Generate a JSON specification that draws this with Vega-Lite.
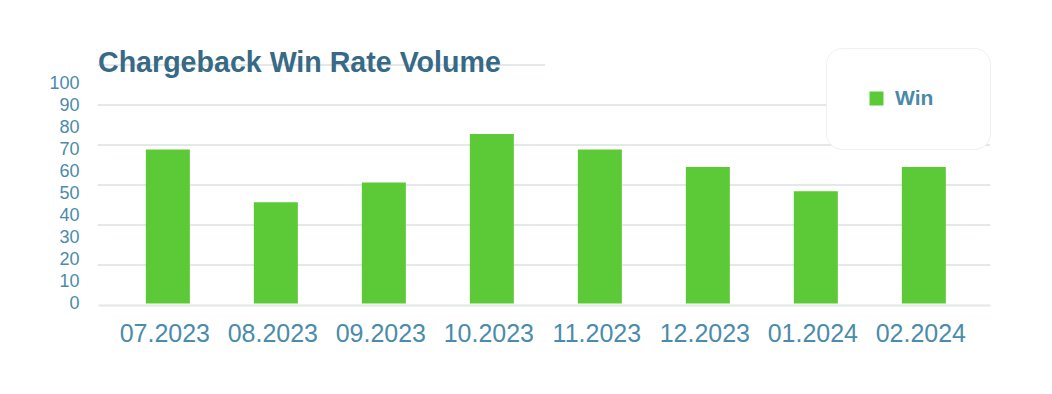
{
  "$schema": "https://vega.github.io/schema/vega-lite/v6.json",
  "width": 892,
  "height": 240,
  "autosize": {"type": "none"},
  "padding": {"left": 98, "top": 65, "right": 62, "bottom": 89},
  "background": "white",
  "config": {"view": {"stroke": null}, "font": "Liberation Sans"},
  "title": {
    "text": "Chargeback Win Rate Volume",
    "anchor": "start",
    "frame": "group",
    "fontSize": 28.6,
    "font": "Liberation Sans",
    "fontWeight": "bold",
    "color": "#366a86",
    "baseline": "alphabetic",
    "offset": -53
  },
  "layer": [
    {
      "data": {"values": [{"g": 1}, {"g": 2}, {"g": 3}, {"g": 4}, {"g": 5}]},
      "mark": {"type": "rule", "color": "#e4e8e8", "strokeWidth": 2},
      "encoding": {
        "y": {"field": "g", "type": "quantitative", "scale": {"domain": [0, 6]}, "axis": null}
      }
    },
    {
      "data": {"values": [{"g": 6}]},
      "mark": {"type": "rule", "color": "#e4e8e8", "strokeWidth": 2, "strokeDash": [0, 445, 447, 0]},
      "encoding": {
        "y": {"field": "g", "type": "quantitative", "scale": {"domain": [0, 6]}, "axis": null}
      }
    },
    {
      "data": {
        "values": [
          {"month": "07.2023", "value": 70, "series": "Win"},
          {"month": "08.2023", "value": 46, "series": "Win"},
          {"month": "09.2023", "value": 55, "series": "Win"},
          {"month": "10.2023", "value": 77, "series": "Win"},
          {"month": "11.2023", "value": 70, "series": "Win"},
          {"month": "12.2023", "value": 62, "series": "Win"},
          {"month": "01.2024", "value": 51, "series": "Win"},
          {"month": "02.2024", "value": 62, "series": "Win"}
        ]
      },
      "mark": {"type": "bar"},
      "encoding": {
        "x": {
          "field": "month",
          "type": "nominal",
          "sort": null,
          "scale": {"paddingInner": 0.5926, "paddingOuter": 0.426, "align": 0.52},
          "axis": {
            "title": null,
            "labelFontSize": 25,
            "labelColor": "#4b8bab",
            "labelPadding": 16,
            "labelOffset": -3,
            "labelAngle": 0,
            "ticks": false,
            "domain": true,
            "domainColor": "#e4e8e8",
            "domainWidth": 2,
            "zindex": 1
          }
        },
        "y": {
          "field": "value",
          "type": "quantitative",
          "scale": {"domain": [-0.7, 108.4], "nice": false, "zero": false},
          "axis": {
            "orient": "left",
            "title": null,
            "values": [0, 10, 20, 30, 40, 50, 60, 70, 80, 90, 100],
            "grid": false,
            "ticks": false,
            "domain": false,
            "labelFontSize": 18,
            "labelColor": "#4b8bab",
            "labelPadding": 19
          }
        },
        "color": {
          "field": "series",
          "type": "nominal",
          "scale": {"range": ["#5cc936"]},
          "legend": {
            "title": ".",
            "titleOrient": "right",
            "titleOpacity": 0,
            "titleFontSize": 6,
            "titlePadding": 15,
            "orient": "none",
            "legendX": 728,
            "legendY": -17,
            "fillColor": "white",
            "strokeColor": "#f0f0f0",
            "cornerRadius": 16,
            "padding": 40,
            "symbolType": "square",
            "symbolSize": 196,
            "symbolStrokeWidth": 0,
            "labelFontSize": 21,
            "labelFont": "Liberation Sans",
            "labelFontWeight": "bold",
            "labelColor": "#4a8aa8",
            "labelOffset": 8
          }
        }
      }
    }
  ],
  "resolve": {"scale": {"y": "independent"}}
}
